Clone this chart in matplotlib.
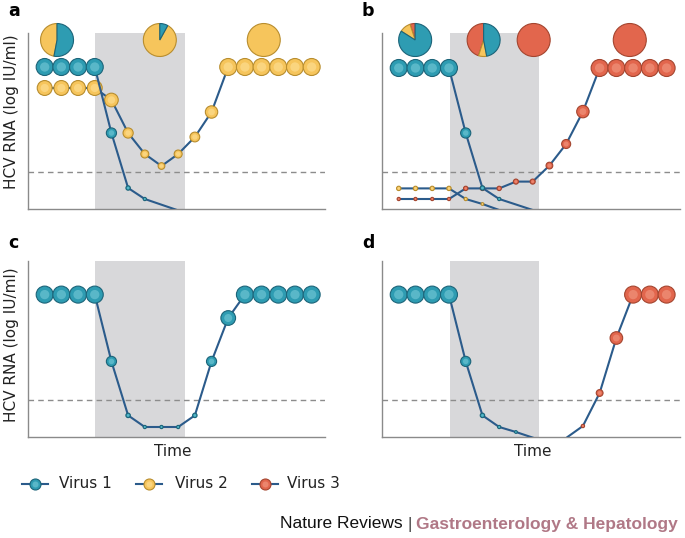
import matplotlib
matplotlib.use("Agg")
import matplotlib.pyplot as plt
from matplotlib.lines import Line2D

# ---- data (time steps, log IU/ml) ----
# panel a
a_v1_t = [1, 2, 3, 4, 5, 6, 7, 9]
a_v1_y = [7.1, 7.1, 7.1, 7.1, 3.8, 1.05, 0.5, -0.07]
a_v2_t = [1, 2, 3, 4, 5, 6, 7, 8, 9, 10, 11, 12, 13, 14, 15, 16, 17]
a_v2_y = [6.05, 6.05, 6.05, 6.05, 5.45, 3.8, 2.75, 2.15, 2.75, 3.6, 4.85,
          7.1, 7.1, 7.1, 7.1, 7.1, 7.1]
# panel b
b_v1_t = [1, 2, 3, 4, 5, 6, 7, 9]
b_v1_y = [7.05, 7.05, 7.05, 7.05, 3.8, 1.05, 0.5, -0.05]
b_v2_t = [1, 2, 3, 4, 5, 6, 7]
b_v2_y = [1.03, 1.03, 1.03, 1.03, 0.5, 0.25, -0.05]
b_v3_t = [1, 2, 3, 4, 5, 6, 7, 8, 9, 10, 11, 12, 13, 14, 15, 16, 17]
b_v3_y = [0.5, 0.5, 0.5, 0.5, 1.03, 1.03, 1.03, 1.37, 1.37, 2.17, 3.25, 4.87,
          7.05, 7.05, 7.05, 7.05, 7.05]
# panel c
c_v1_t = [1, 2, 3, 4, 5, 6, 7, 8, 9, 10, 11, 12, 13, 14, 15, 16, 17]
c_v1_y = [7.12, 7.12, 7.12, 7.12, 3.78, 1.08, 0.5, 0.5, 0.5, 1.08, 3.78, 5.95,
          7.12, 7.12, 7.12, 7.12, 7.12]
# panel d
d_v1_t = [1, 2, 3, 4, 5, 6, 7, 8, 9]
d_v1_y = [7.12, 7.12, 7.12, 7.12, 3.78, 1.08, 0.5, 0.25, -0.03]
d_v3_t = [11.08, 12, 13, 14, 15, 16, 17]
d_v3_y = [0.0, 0.55, 2.2, 4.95, 7.12, 7.12, 7.12]

detection_limit = 1.85
treatment_a = (4.0, 9.4)
treatment_b = (4.07, 9.4)

# virus composition pies (virus1, virus2, virus3) at time positions
a_pie_t = [1.74, 7.9, 14.13]
a_pie_frac = [(0.53, 0.47, 0.0), (0.08, 0.92, 0.0), (0.0, 1.0, 0.0)]
b_pie_t = [1.98, 6.07, 9.06, 14.8]
b_pie_frac = [(0.84, 0.11, 0.05), (0.47, 0.08, 0.45), (0.0, 0.0, 1.0), (0.0, 0.0, 1.0)]

virus_names = ["Virus 1", "Virus 2", "Virus 3"]

# ---- style ----
FILL = {1: "#2e9cb2", 2: "#f6c55c", 3: "#e2664d"}
LIGHT = {1: "#6cc3d2", 2: "#fddc8e", 3: "#f0937c"}
EDGE = {1: "#1c6479", 2: "#b88d2e", 3: "#a4452f"}
LINE = "#2b5b8b"
BAND = "#d8d8da"
W, H = 685, 538

fig = plt.figure(figsize=(W / 100, H / 100), dpi=100)


def px_axes(l, r, t, b):
    return fig.add_axes([l / W, 1 - b / H, (r - l) / W, (b - t) / H])


def msize(y):
    d = min(17.0, 2.2 + 2.1 * y)  # diameter in px
    return (d * 0.72) ** 2


def series(ax, t, y, v, z):
    ax.plot(t, y, color=LINE, lw=1.5, zorder=z, solid_joinstyle="round")
    pts = [(ti, yi) for ti, yi in zip(t, y) if yi > 0.1]
    xs = [p[0] for p in pts]
    ys = [p[1] for p in pts]
    s = [msize(v_) for v_ in ys]
    ax.scatter(xs, ys, s=s, c=FILL[v], edgecolors=EDGE[v], linewidths=0.8,
               zorder=z + 1, clip_on=False)
    ax.scatter(xs, ys, s=[si * 0.3 for si in s], c=LIGHT[v], linewidths=0,
               alpha=0.7, zorder=z + 2, clip_on=False)


def pies(ax, ts, fracs):
    w, h = 33 / 16.7, 33 / 20.0
    for t, fr in zip(ts, fracs):
        ia = ax.inset_axes([t - w / 2, 8.45 - h / 2, w, h], transform=ax.transData)
        vals, cols, edges = [], [], []
        # counter-clockwise from 12 o'clock: virus 3, virus 2, virus 1
        for k in [2, 1, 0]:
            if fr[k] > 0:
                vals.append(fr[k])
                cols.append(FILL[k + 1])
                edges.append(EDGE[k + 1])
        wedges, _ = ia.pie(vals, colors=cols, startangle=90, counterclock=True,
                           radius=1.0, wedgeprops=dict(linewidth=0.8))
        for wd, ec in zip(wedges, edges):
            wd.set_edgecolor(ec)
            wd.set_clip_on(False)
        ia.set_xlim(-1, 1)
        ia.set_ylim(-1, 1)
        ia.set_aspect("equal")
        ia.axis("off")


def base(ax, band):
    ax.set_xlim(0, 17.8)
    ax.set_ylim(0, 8.8)
    ax.axvspan(band[0], band[1], color=BAND, lw=0, zorder=0)
    ax.axhline(detection_limit, color="#8c8c8c", lw=1, dashes=(4, 3), zorder=1)
    for sp in ["top", "right"]:
        ax.spines[sp].set_visible(False)
    for sp in ["left", "bottom"]:
        ax.spines[sp].set_color("#8a8a8a")
        ax.spines[sp].set_linewidth(1)
    ax.set_xticks([])
    ax.set_yticks([])
    ax.patch.set_alpha(0)


ax_a = px_axes(28, 325, 33, 209)
ax_b = px_axes(382, 680, 33, 209)
ax_c = px_axes(28, 325, 261, 437)
ax_d = px_axes(382, 680, 261, 437)

base(ax_a, treatment_a)
series(ax_a, a_v2_t, a_v2_y, 2, 3)
series(ax_a, a_v1_t, a_v1_y, 1, 6)
pies(ax_a, a_pie_t, a_pie_frac)

base(ax_b, treatment_b)
series(ax_b, b_v3_t, b_v3_y, 3, 3)
series(ax_b, b_v2_t, b_v2_y, 2, 6)
series(ax_b, b_v1_t, b_v1_y, 1, 9)
pies(ax_b, b_pie_t, b_pie_frac)

base(ax_c, treatment_a)
series(ax_c, c_v1_t, c_v1_y, 1, 3)

base(ax_d, treatment_b)
series(ax_d, d_v1_t, d_v1_y, 1, 3)
series(ax_d, d_v3_t, d_v3_y, 3, 6)

# ---- text overlay in pixel coords ----
ov = fig.add_axes([0, 0, 1, 1])
ov.set_xlim(0, W)
ov.set_ylim(H, 0)
ov.axis("off")
ov.patch.set_alpha(0)

for lab, x, y in [("a", 8, 11), ("b", 362, 11), ("c", 8, 243), ("d", 362, 243)]:
    ov.text(x, y, lab, fontsize=12.5, fontweight="bold", ha="left", va="center")

for yc in [112, 345]:
    ov.text(12, yc, "HCV RNA (log IU/ml)", fontsize=11, rotation=90,
            ha="center", va="center", color="#222222")
for xc in [173, 533]:
    ov.text(xc, 452, "Time", fontsize=11, ha="center", va="center", color="#222222")

# legend
for k, (xc, xt) in enumerate([(35, 59), (149, 175), (265, 287)]):
    ov.add_line(Line2D([xc - 13, xc + 13], [484, 484], color=LINE, lw=1.5))
    ov.scatter([xc], [484], s=(11 * 0.72) ** 2, c=FILL[k + 1], edgecolors=EDGE[k + 1],
               linewidths=0.8, zorder=5)
    ov.scatter([xc], [484], s=(11 * 0.72) ** 2 * 0.3, c=LIGHT[k + 1], linewidths=0,
               alpha=0.7, zorder=6)
    ov.text(xt, 484, virus_names[k], fontsize=11, ha="left", va="center",
            color="#222222")

# footer
ffam = ["Liberation Sans", "DejaVu Sans"]
t2 = ov.text(678, 524, "Gastroenterology & Hepatology", fontsize=12.5, family=ffam,
             fontweight="bold", color="#b07886", ha="right", va="center")
fig.canvas.draw()
bb = t2.get_window_extent()
x2 = bb.x0  # display px == overlay x (dpi 100, full-figure axes)
ov.text(x2 - 7, 524, "|", fontsize=12.5, family=ffam, color="#444444",
        ha="center", va="center")
ov.text(x2 - 14, 524, "Nature Reviews", fontsize=12.5, family=ffam,
        color="#111111", ha="right", va="center")

fig.savefig("out.png", dpi=100)
